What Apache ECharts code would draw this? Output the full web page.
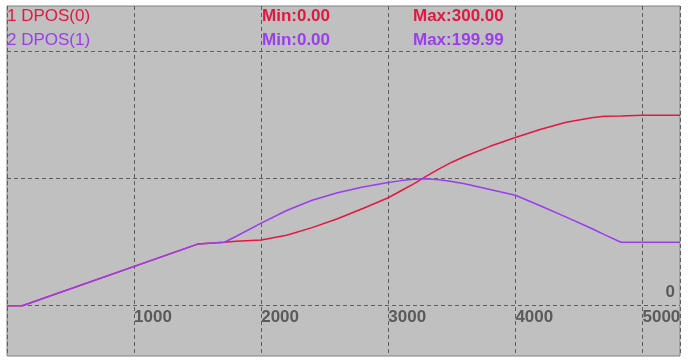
<!DOCTYPE html>
<html>
<head>
<meta charset="utf-8">
<script src="https://cdn.jsdelivr.net/npm/echarts@6/dist/echarts.min.js"></script>
<style>
  html, body { margin: 0; padding: 0; background: #ffffff; }
  #chart { width: 688px; height: 362px; }
</style>
</head>
<body>
<div id="chart"></div>
<script>
// ---- data ----
var time = [0, 120, 1500, 1710, 1800, 2000, 2200, 2400, 2600, 2800, 3000, 3100, 3200, 3300, 3400, 3500, 3600, 3800, 4000, 4200, 4400, 4600, 4700, 4830, 5000, 5295];
var dpos0 = [0, 0, 97, 100, 101.5, 103.5, 111, 123, 137, 153, 170, 181, 192, 204, 215.5, 226, 235, 251, 265, 278, 289, 296, 298.2, 298.6, 300, 300];
var dpos1 = [0, 0, 97, 100, 109, 130, 150, 166, 178, 187, 194, 197, 199, 199.99, 198.5, 195.5, 192, 183, 174, 157, 139.5, 121.6, 112, 100, 100, 100];
var seriesNames = ['1 DPOS(0)', '2 DPOS(1)'];
var xTicks = [1000, 2000, 3000, 4000, 5000];
var yGridValues = [0, 200, 400];

var RED = '#e3173f';
var PURPLE = '#9b3cf0';
var GRIDC = '#5e5e5e';
var FONT = 'Liberation Sans';

var GRID_TOP = 6, GRID_BOTTOM = 6, CH = 362;
var Y_MIN = -79.2, Y_MAX = 472;
var gridH = CH - GRID_TOP - GRID_BOTTOM;
// move the x axis labels from the grid bottom up to value 0
var xAxisOffset = -((0 - Y_MIN) / (Y_MAX - Y_MIN)) * gridH;

function pairs(xs, ys) { return xs.map(function (x, i) { return [x, ys[i]]; }); }
function fmt(v) { return v.toFixed(2); }

var chart = echarts.init(document.getElementById('chart'), null, { renderer: 'canvas' });

function titleItem(text, left, top, color, bold) {
  return {
    text: text, left: left, top: top, padding: 0,
    textStyle: { color: color, fontSize: 17, fontWeight: bold ? 'bold' : 'normal', fontFamily: FONT }
  };
}

var option = {
  animation: false,
  backgroundColor: '#ffffff',
  title: [
    titleItem(seriesNames[0], 7, 8, RED, false),
    titleItem('Min:' + fmt(Math.min.apply(null, dpos0)), 262, 8, RED, true),
    titleItem('Max:' + fmt(Math.max.apply(null, dpos0)), 413, 8, RED, true),
    titleItem(seriesNames[1], 7, 32, PURPLE, false),
    titleItem('Min:' + fmt(Math.min.apply(null, dpos1)), 262, 32, PURPLE, true),
    titleItem('Max:' + fmt(Math.max.apply(null, dpos1)), 413, 32, PURPLE, true)
  ],
  grid: {
    left: 7, right: 8, top: GRID_TOP, bottom: GRID_BOTTOM,
    containLabel: false, outerBoundsMode: 'none',
    show: true, backgroundColor: '#c0c0c0', borderColor: '#808080', borderWidth: 1
  },
  xAxis: {
    type: 'value', min: 0, max: 5295, interval: 1000,
    position: 'bottom', offset: xAxisOffset,
    axisLine: { show: false, onZero: false },
    axisTick: { show: false },
    axisLabel: {
      align: 'left', margin: 3, color: '#5a5a5a', fontWeight: 'bold', fontSize: 17, fontFamily: FONT,
      formatter: function (v) { return xTicks.indexOf(v) >= 0 ? String(v) : ''; }
    },
    splitLine: { show: true, lineStyle: { color: GRIDC, type: [4, 3], width: 1 } }
  },
  yAxis: {
    type: 'value', min: Y_MIN, max: Y_MAX,
    axisLine: { show: false }, axisTick: { show: false }, axisLabel: { show: false }, splitLine: { show: false }
  },
  series: [
    {
      name: seriesNames[0], type: 'line', data: pairs(time, dpos0), showSymbol: false, symbol: 'none',
      lineStyle: { color: RED, width: 1.5 }, z: 10,
      markLine: {
        silent: true, symbol: 'none', animation: false,
        lineStyle: { color: GRIDC, type: [4, 3], width: 1 },
        label: { show: false },
        data: yGridValues.map(function (v) {
          var item = { yAxis: v };
          if (v === 0) {
            item.label = { show: true, position: 'insideEndTop', distance: 5, formatter: '0',
                           color: '#5a5a5a', fontWeight: 'bold', fontSize: 17, fontFamily: FONT };
          }
          return item;
        })
      }
    },
    {
      name: seriesNames[1], type: 'line', data: pairs(time, dpos1), showSymbol: false, symbol: 'none',
      lineStyle: { color: PURPLE, width: 1.5 }, z: 11
    }
  ]
};
chart.setOption(option);
</script>
</body>
</html>
